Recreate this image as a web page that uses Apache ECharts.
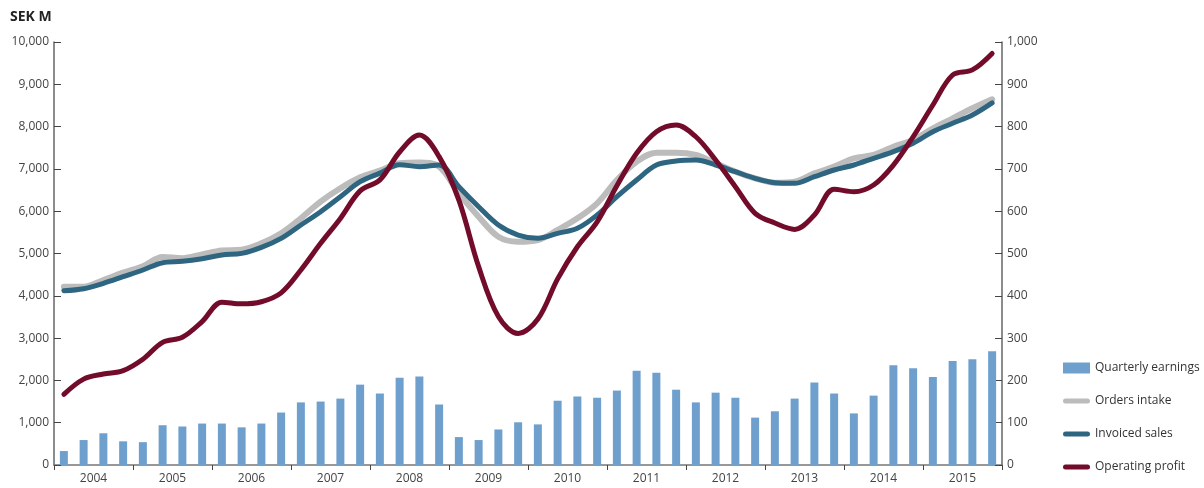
<!DOCTYPE html>
<html><head><meta charset="utf-8">
<script src="https://cdn.jsdelivr.net/npm/echarts@6/dist/echarts.min.js"></script>
<style>html,body{margin:0;padding:0;background:#fff}#c{width:1204px;height:488px}</style>
</head><body><div id="c"></div>
<script>
const years = ['2004','2005','2006','2007','2008','2009','2010','2011','2012','2013','2014','2015'];
const quarters = [];
years.forEach(y => { for (let q = 1; q <= 4; q++) quarters.push(y + ' Q' + q); });

const quarterlyEarnings = [33,59,75,56, 54,94,91,98, 98,89,98,124, 148,150,157,190, 169,206,209,143,
  66,59,84,101, 96,152,162,159, 176,223,218,178, 148,171,159,112, 127,157,195,169, 122,164,236,229, 208,246,250,269];
const ordersIntake = [4215,4215,4374,4546, 4700,4920,4890,4980, 5070,5090,5240,5477, 5832,6225,6541,6801,
  6960,7132,7150,7053, 6423,5871,5397,5279, 5319,5556,5832,6187, 6738,7170,7384,7384,
  7329,7132,6934,6777, 6674,6698,6895,7053, 7250,7329,7525,7683, 7959,8196,8432,8645];
const invoicedSales = [4120,4168,4295,4452, 4610,4783,4815,4877, 4965,5004,5146,5359, 5674,5989,6343,6698,
  6900,7100,7053,7092, 6580,6106,5674,5437, 5359,5477,5595,5910, 6343,6738,7092,7187,
  7210,7092,6934,6777, 6674,6659,6816,6974, 7092,7250,7407,7605, 7880,8078,8274,8560];
const operatingProfit = [167,203,215,223, 250,290,302,339, 385,381,386,407, 461,524,583,648,
  674,740,780,729, 626,469,351,311, 345,440,516,575, 660,737,788,804,
  776,721,658,595, 572,557,591,652, 646,662,709,776, 851,922,934,973];

const fmt = v => Number(v).toLocaleString('en-US');
const chart = echarts.init(document.getElementById('c'), null, {renderer: 'canvas'});
const font = 'Open Sans';
const pill = 'path://M2.5,0 L24.5,0 A2.5,2.5 0 0 1 24.5,5 L2.5,5 A2.5,2.5 0 0 1 2.5,0 Z';
chart.setOption({
  animation: false,
  textStyle: {fontFamily: font},
  title: {text: 'SEK M', left: 5, top: 5, textStyle: {fontFamily: font, fontSize: 14, fontWeight: 'bold', color: '#222'}},
  grid: {left: 54, right: 202, top: 42, bottom: 23, containLabel: false},
  legend: {
    orient: 'vertical', left: 1058, top: 357, itemWidth: 27, itemHeight: 11, itemGap: 21,
    textStyle: {fontFamily: font, fontSize: 12, color: '#333'},
    data: [
      {name: 'Quarterly earnings', icon: 'rect'},
      {name: 'Orders intake', icon: pill},
      {name: 'Invoiced sales', icon: pill},
      {name: 'Operating profit', icon: pill}
    ]
  },
  xAxis: [
    {type: 'category', data: years, boundaryGap: true, position: 'bottom',
     axisLine: {lineStyle: {color: '#777', width: 1.5}},
     axisTick: {show: true, interval: 0, length: 5, lineStyle: {color: '#444'}},
     axisLabel: {interval: 0, color: '#444', fontSize: 12, margin: 8, fontFamily: font}},
    {type: 'category', data: quarters, boundaryGap: true, show: false}
  ],
  yAxis: [
    {type: 'value', min: 0, max: 10000, interval: 1000, position: 'left',
     axisLine: {show: true, lineStyle: {color: '#666', width: 1.5}},
     axisTick: {show: true, inside: true, length: 7, lineStyle: {color: '#444'}},
     splitLine: {show: false},
     axisLabel: {formatter: fmt, color: '#444', fontSize: 12, margin: 5, fontFamily: font}},
    {type: 'value', min: 0, max: 1000, interval: 100, position: 'right',
     axisLine: {show: true, lineStyle: {color: '#666', width: 1.5}},
     axisTick: {show: true, inside: true, length: 7, lineStyle: {color: '#444'}},
     splitLine: {show: false},
     axisLabel: {formatter: fmt, color: '#444', fontSize: 12, margin: 5, fontFamily: font}}
  ],
  series: [
    {name: 'Quarterly earnings', type: 'bar', xAxisIndex: 1, yAxisIndex: 1, data: quarterlyEarnings,
     barWidth: 8, itemStyle: {color: '#6fa0cd'}},
    {name: 'Orders intake', type: 'line', xAxisIndex: 1, yAxisIndex: 0, data: ordersIntake,
     smooth: 0.35, symbol: 'none', lineStyle: {color: '#bcbcbc', width: 6, cap: 'round'}, itemStyle: {color: '#bcbcbc'}},
    {name: 'Invoiced sales', type: 'line', xAxisIndex: 1, yAxisIndex: 0, data: invoicedSales,
     smooth: 0.35, symbol: 'none', lineStyle: {color: '#2e6581', width: 5, cap: 'round'}, itemStyle: {color: '#2e6581'}},
    {name: 'Operating profit', type: 'line', xAxisIndex: 1, yAxisIndex: 1, data: operatingProfit,
     smooth: 0.35, symbol: 'none', lineStyle: {color: '#730c2b', width: 5, cap: 'round'}, itemStyle: {color: '#730c2b'}}
  ]
});
</script></body></html>
